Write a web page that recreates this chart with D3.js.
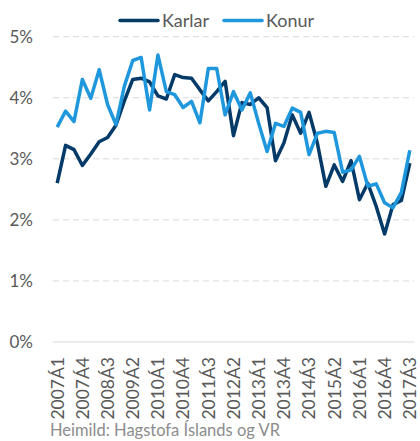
<!DOCTYPE html>
<html>
<head>
<meta charset="utf-8">
<script src="https://cdn.jsdelivr.net/npm/d3@7"></script>
<style>
  body { margin: 0; background: #fff; }
  svg { display: block; font-family: Lato, 'Open Sans', sans-serif; }
</style>
</head>
<body>
<svg></svg>
<script>
let width = 420;
let height = 441;

const quarters = [];
for (let y = 2007; y <= 2017; y++) {
  for (let q = 1; q <= 4; q++) {
    if (y === 2017 && q > 3) break;
    quarters.push(y + 'Á' + q);
  }
}

const karlar = [
  2.60, 3.22, 3.15, 2.89, 3.08, 3.28, 3.35, 3.55, 3.95, 4.30,
  4.32, 4.26, 4.03, 3.98, 4.38, 4.33, 4.32, 4.13, 3.95, 4.10,
  4.27, 3.38, 3.92, 3.89, 4.00, 3.84, 2.97, 3.26, 3.72, 3.42,
  3.76, 3.25, 2.55, 2.90, 2.63, 2.97, 2.33, 2.60, 2.22, 1.77,
  2.25, 2.32, 2.93
];

const konur = [
  3.52, 3.78, 3.61, 4.30, 3.99, 4.46, 3.89, 3.56, 4.19, 4.61,
  4.66, 3.80, 4.70, 4.10, 4.05, 3.84, 3.94, 3.59, 4.48, 4.48,
  3.72, 4.10, 3.80, 4.08, 3.58, 3.12, 3.58, 3.53, 3.83, 3.76,
  3.07, 3.42, 3.45, 3.43, 2.78, 2.82, 3.04, 2.55, 2.59, 2.28,
  2.20, 2.45, 3.14
];

const yTicks = [0, 1, 2, 3, 4, 5];
const series = [
  { name: 'Karlar', values: karlar, color: '#043a68' },
  { name: 'Konur', values: konur, color: '#1f97dd' }
];

let svg = d3.select('svg')
            .attr('width', width)
            .attr('height', height);

let x = d3.scalePoint()
          .domain(quarters)
          .range([53, 414])
          .padding(0.5);

let y = d3.scaleLinear()
          .domain([0, 5])
          .range([342, 36.7]);

// gridlines
svg.append('g')
  .selectAll('line')
  .data(yTicks)
  .enter()
  .append('line')
    .attr('x1', 53)
    .attr('x2', 414)
    .attr('y1', d => y(d))
    .attr('y2', d => y(d))
    .attr('stroke', '#d9d9d9')
    .attr('stroke-width', 1)
    .attr('stroke-dasharray', d => d === 0 ? null : '6,4');

// y labels
svg.append('g')
  .selectAll('text')
  .data(yTicks)
  .enter()
  .append('text')
    .attr('x', 33)
    .attr('y', d => y(d))
    .attr('dy', '0.35em')
    .attr('text-anchor', 'end')
    .style('font-size', '17px')
    .attr('fill', '#595959')
    .text(d => d + '%');

// x labels
svg.append('g')
  .selectAll('text')
  .data(quarters.filter((d, i) => i % 3 === 0))
  .enter()
  .append('text')
    .attr('transform', d => `translate(${x(d)}, 357) rotate(-90)`)
    .attr('dy', '0.36em')
    .attr('text-anchor', 'end')
    .style('font-size', '17.5px')
    .attr('fill', '#595959')
    .text(d => d);

let line = d3.line()
             .x((d, i) => x(quarters[i]))
             .y(d => y(d));

svg.append('g')
  .selectAll('path')
  .data(series)
  .enter()
  .append('path')
    .attr('d', d => line(d.values))
    .attr('fill', 'none')
    .attr('stroke', d => d.color)
    .attr('stroke-width', 3.5)
    .attr('stroke-linejoin', 'round');

// legend
let legend = svg.append('g')
  .selectAll('g')
  .data(series)
  .enter()
  .append('g')
    .attr('transform', (d, i) => `translate(${i === 0 ? 120 : 224}, 20.5)`);

legend.append('line')
  .attr('x1', 0)
  .attr('x2', 38)
  .attr('stroke', d => d.color)
  .attr('stroke-width', 3.5)
  .attr('stroke-linecap', 'round');

legend.append('text')
  .attr('x', 42)
  .attr('y', 6.5)
  .style('font-size', '18px')
  .attr('fill', '#595959')
  .text(d => d.name);

svg.append('text')
  .attr('x', 50)
  .attr('y', 436)
  .style('font-size', '16.5px')
  .attr('fill', '#8c8c8c')
  .text('Heimild: Hagstofa Íslands og VR');
</script>
</body>
</html>
